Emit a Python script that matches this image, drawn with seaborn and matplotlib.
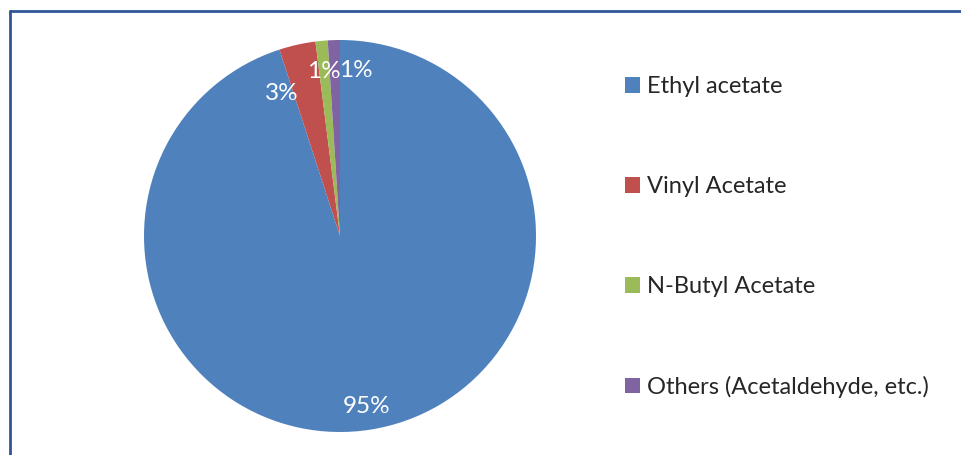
import matplotlib.pyplot as plt
import seaborn as sns
from matplotlib.lines import Line2D
from matplotlib.patches import Patch

# data
categories = ["Ethyl acetate", "Vinyl Acetate", "N-Butyl Acetate", "Others (Acetaldehyde, etc.)"]
shares = [95, 3, 1, 1]
colors = ["#4F81BD", "#C0504D", "#9BBB59", "#8064A2"]

sns.set_theme(style="white")
plt.rcParams['font.family'] = ['Lato', 'DejaVu Sans']

W, H = 962, 455
fig = plt.figure(figsize=(W / 100, H / 100), dpi=100)

# pie axes: centre (340, 236) px, radius 196 px
cx, cy, r = 340, 236, 196
ax = fig.add_axes([(cx - r) / W, (H - cy - r) / H, 2 * r / W, 2 * r / H])
wedges, texts, autotexts = ax.pie(
    shares,
    colors=colors,
    startangle=90,
    counterclock=False,
    autopct="%1.0f%%",
    pctdistance=0.86,
    wedgeprops=dict(linewidth=0),
    textprops=dict(color="white", fontsize=17.5),
)
ax.set_xlim(-1, 1)
ax.set_ylim(-1, 1)
ax.set_aspect("equal")
ax.axis("off")

# nudge the small labels apart like the original layout
nudges = [(0.0, -0.02), (-0.11, -0.11), (0.0, -0.015), (0.11, -0.015)]
for t, (dx, dy) in zip(autotexts, nudges):
    x, y = t.get_position()
    t.set_position((x + dx, y + dy))

# legend on the right
handles = [Patch(facecolor=c, edgecolor="none") for c in colors]
fig.legend(
    handles,
    categories,
    loc="upper left",
    bbox_to_anchor=(616 / W, 1 - 67 / H),
    frameon=False,
    fontsize=17,
    handlelength=0.62,
    handleheight=0.62,
    handletextpad=0.3,
    labelspacing=3.34,
    borderaxespad=0,
)

# chart-area border (left and top edges visible)
border = "#2F5597"
fig.add_artist(Line2D([9.5 / W, 9.5 / W], [0, 1 - 11 / H], color=border, lw=2))
fig.add_artist(Line2D([9.5 / W, 1], [1 - 11 / H, 1 - 11 / H], color=border, lw=2))

fig.savefig("out.png", dpi=100)
